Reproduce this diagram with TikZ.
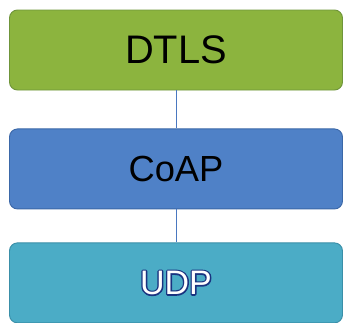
\documentclass[tikz,border=0pt]{standalone}
\usepackage{fontspec}
\setmainfont{Liberation Sans}
\usetikzlibrary{positioning}
\definecolor{dtlsgreen}{HTML}{8CB43E}
\definecolor{dtlsedge}{HTML}{6F953A}
\definecolor{coapblue}{HTML}{4F81C7}
\definecolor{coapedge}{HTML}{3B68A8}
\definecolor{udpteal}{HTML}{4BACC6}
\definecolor{udpedge}{HTML}{3A8FA8}
\definecolor{linkblue}{HTML}{4A78C0}
% white letters with a dark blue outline: stroke first, white fill on top
\newcommand{\outlined}[1]{\rlap{\special{pdf:code q 0.10 0.20 0.50 RG 2.4 w 1 j 1 Tr}#1\special{pdf:code 0 Tr Q}}{\color{white}#1}}
\tikzset{
  layer/.style={shape=rectangle,rounded corners=0.24cm,line width=0.8pt,
    minimum width=9.99cm,minimum height=2.4cm,inner sep=0pt},
  link/.style={draw=linkblue,line width=0.6pt}
}
\begin{document}
\begin{tikzpicture}
\useasboundingbox (0,0) rectangle (10.32,-9.69);
\node[layer,fill=dtlsgreen,draw=dtlsedge,font=\fontsize{34}{34}\selectfont] (DTLS) at (5.28,-1.5) {DTLS};
\node[layer,fill=coapblue,draw=coapedge,font=\fontsize{31}{31}\selectfont,below=1.14cm of DTLS] (CoAP) {CoAP};
\node[layer,fill=udpteal,draw=udpedge,font=\fontsize{29}{29}\selectfont,below=0.99cm of CoAP] (UDP) {\outlined{UDP}};

\draw[link] (DTLS) -- (CoAP);
\draw[link] (CoAP) -- (UDP);
\end{tikzpicture}
\end{document}
